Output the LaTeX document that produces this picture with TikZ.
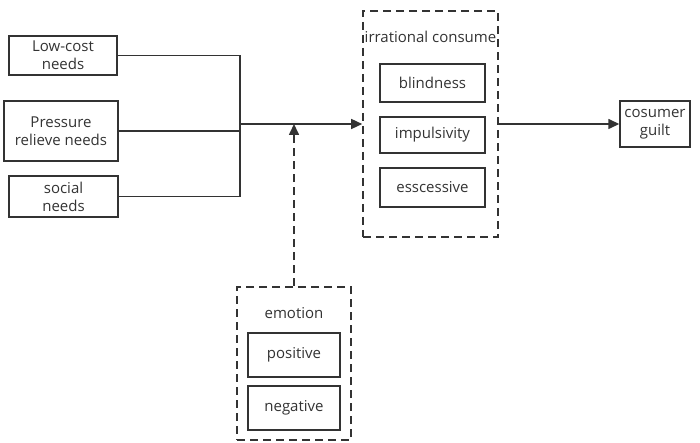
\documentclass[tikz,border=0pt]{standalone}
\usepackage{fontspec}
\setmainfont{Open Sans}
\usetikzlibrary{arrows.meta}
\definecolor{ink}{HTML}{333333}
\begin{document}
\begin{tikzpicture}[x=1pt,y=-1pt,
  lbl/.style={font=\fontsize{15}{18}\selectfont,text=ink},
  box/.style={lbl,draw=ink,line width=1.4pt,align=center,inner sep=0pt},
  dbox/.style={draw=ink,line width=1.6pt,dash pattern=on 8pt off 5pt},
  conn/.style={draw=ink,line width=1.4pt},
  tip/.style={-{Triangle[length=11pt,width=10pt]}}]
\useasboundingbox (0,0) rectangle (700,443);
% left boxes
\node[box,minimum width=108pt,minimum height=39pt] (low) at (63,55.5) {Low-cost\\needs};
\node[box,minimum width=114pt,minimum height=60pt] (press) at (61,131) {Pressure\\relieve needs};
\node[box,minimum width=109pt,minimum height=41pt] (soc) at (63.5,196.5) {social\\needs};
\coordinate (bus) at (240,124);
\coordinate (bt) at (240,55.5);
\coordinate (bb) at (240,196.5);
\draw[conn] (low.east) -- (bt) -- (bb) -- (soc.east);
\draw[conn] (press.east) -- (240,131);
% irrational consume group
\node[dbox,minimum width=135pt,minimum height=226pt] (irr) at (430.5,124) {};
\node[lbl,anchor=west,inner sep=0pt] (irrt) at (364.5,37) {irrational consume};
\node[box,line width=1.2pt,minimum width=105pt,minimum height=38pt] (blind) at (432.5,83) {blindness};
\node[box,line width=1.8pt,minimum width=105pt,minimum height=36pt] (imp) at (432.5,135) {impulsivity};
\node[box,line width=1.4pt,minimum width=105pt,minimum height=39pt] (exc) at (432.5,187.5) {esscessive};
\draw[conn,tip] (bus) -- (irr.west);
% guilt
\node[box,minimum width=70pt,minimum height=46pt] (guilt) at (655,124) {cosumer\\guilt};
\draw[conn,tip] (irr.east) -- (guilt.west);
% emotion group
\node[dbox,minimum width=114pt,minimum height=153pt] (emo) at (294,363.5) {};
\node[lbl,inner sep=0pt] (emot) at (294,313) {emotion};
\node[box,minimum width=92pt,minimum height=44pt] (pos) at (294,355) {positive};
\node[box,minimum width=92pt,minimum height=44pt] (neg) at (294,408) {negative};
\coordinate (join) at (294,124);
\draw[conn,dbox,tip] (emo.north) -- (join);
\end{tikzpicture}
\end{document}
